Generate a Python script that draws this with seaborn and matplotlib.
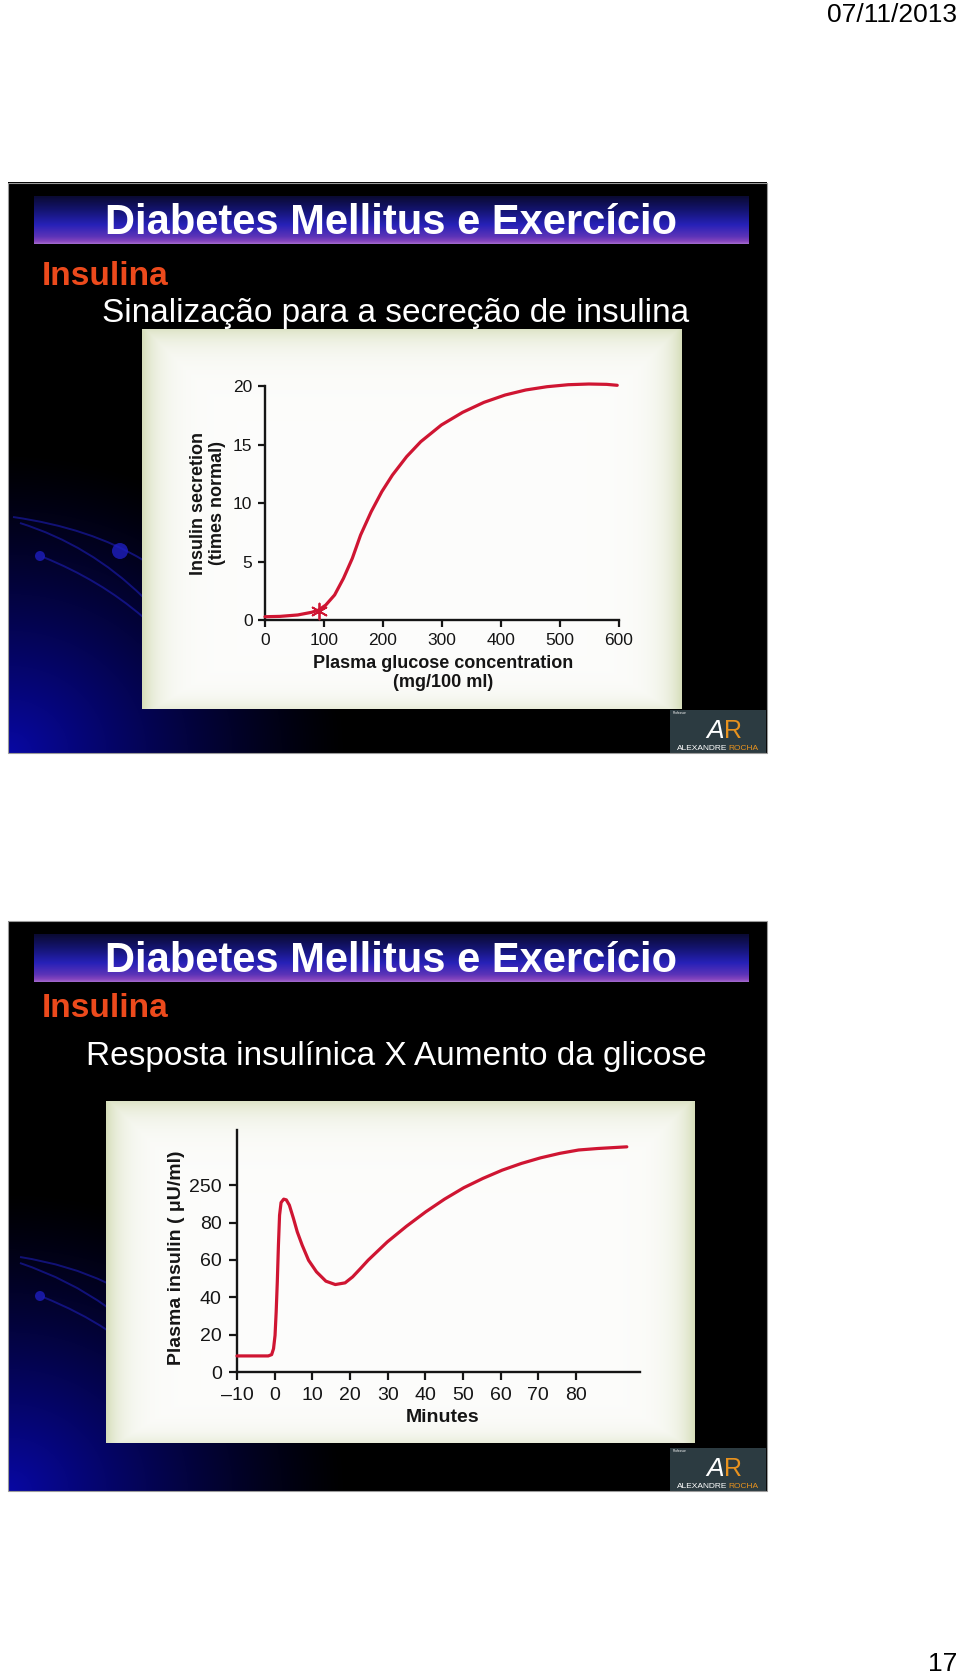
import numpy as np
import pandas as pd
import matplotlib
matplotlib.use("Agg")
import matplotlib.pyplot as plt
import seaborn as sns
from matplotlib.patches import Rectangle, PathPatch, Circle
from matplotlib.path import Path

# ---------------- data ----------------
# Chart 1: insulin secretion vs plasma glucose
glucose_mg = [0, 25.6, 55.4, 79.2, 91, 103, 118, 133, 148, 162, 180, 198, 216, 240,
              264, 299, 335, 371, 407, 442, 478, 514, 549, 579, 597]
secretion_times_normal = [0.28, 0.31, 0.43, 0.66, 0.85, 1.28, 2.14, 3.56, 5.27, 7.26,
                          9.26, 10.97, 12.39, 13.96, 15.24, 16.67, 17.75, 18.60, 19.23,
                          19.66, 19.94, 20.11, 20.17, 20.14, 20.06]
normal_glucose = [92]
normal_secretion = [0.8]
glucose_ticks = [0, 100, 200, 300, 400, 500, 600]
secretion_ticks = [0, 5, 10, 15, 20]

# Chart 2: plasma insulin over time
minutes = [-10, -1.7, -0.8, -0.3, 0.1, 0.4, 0.7, 1.0, 1.3, 1.7, 2.4, 3.1, 3.9, 5.0,
           6.0, 7.3, 9.0, 11.1, 13.6, 16.1, 18.7, 20.7, 22.8, 24.8, 29.9, 35.0, 40.1,
           45.1, 50.2, 55.3, 60.4, 65.5, 70.6, 75.7, 80.7, 85.8, 93.5]
plasma_insulin = [8.6, 8.6, 9.3, 12.5, 19.6, 32.1, 48.2, 67.9, 83.9, 90.7, 92.5, 92.1,
                  89.3, 82.1, 75.0, 67.9, 59.8, 53.6, 48.6, 46.8, 47.7, 50.9, 55.4,
                  59.8, 69.6, 78.0, 85.7, 92.5, 98.6, 103.6, 108.0, 111.6, 114.6,
                  117.0, 118.8, 119.6, 120.5]
minute_ticks = [-10, 0, 10, 20, 30, 40, 50, 60, 70, 80]
minute_ticklabels = ["\u201310", "0", "10", "20", "30", "40", "50", "60", "70", "80"]
insulin_tick_pos = [0, 20, 40, 60, 80, 100]
insulin_ticklabels = ["0", "20", "40", "60", "80", "250"]

# ---------------- style ----------------
sns.set_style("ticks")
plt.rcParams["font.family"] = ["Liberation Sans", "DejaVu Sans"]

W, H = 960, 1676
RED = "#cf1532"
INK = "#151515"
ORANGE_RED = "#ec4a1c"

fig = plt.figure(figsize=(W / 100, H / 100), dpi=100)
fig.patch.set_facecolor("white")


def rect(x0, y0, x1, y1):
    return [x0 / W, 1 - y1 / H, (x1 - x0) / W, (y1 - y0) / H]


bg = fig.add_axes([0, 0, 1, 1])
bg.axis("off")


def put_img(img, x0, y0, x1, y1, z):
    bg.imshow(img, extent=(x0, x1, y1, y0), aspect="auto", zorder=z,
              interpolation="bilinear")


def slide_bg(w, h):
    yy, xx = np.mgrid[0:h, 0:w]
    dx = xx / 340.0
    dy = (h - 1 - yy) / 300.0
    d = np.sqrt(dx ** 2 + dy ** 2)
    t = np.clip(1 - d, 0, 1) ** 1.25
    col = np.array([0.03, 0.03, 0.64])
    return t[..., None] * col


def bar_img(w, h):
    stops = [0.0, 0.3, 0.6, 0.85, 0.95, 1.0]
    cols = np.array([[0.04, 0.04, 0.20], [0.08, 0.08, 0.45], [0.15, 0.13, 0.72],
                     [0.36, 0.20, 0.72], [0.52, 0.27, 0.74], [0.62, 0.40, 0.80]])
    f = np.linspace(0, 1, h)
    c = np.stack([np.interp(f, stops, cols[:, k]) for k in range(3)], axis=1)
    return np.repeat(c[:, None, :], w, axis=1)


def panel_img(w, h):
    yy, xx = np.mgrid[0:h, 0:w]
    dl, dr = xx, w - 1 - xx
    dt, db = yy, h - 1 - yy
    wgt = np.maximum.reduce([np.exp(-dl / 16.0), np.exp(-dr / 16.0),
                             0.8 * np.exp(-dt / 16.0), 0.5 * np.exp(-db / 10.0)])
    white = np.array([0.99, 0.99, 0.985])
    green = np.array([0.84, 0.87, 0.73])
    return white * (1 - wgt[..., None]) + green * wgt[..., None]


def draw_logo(x0, y0, x1, y1):
    bg.add_patch(Rectangle((x0, y0), x1 - x0, y1 - y0, fc="#2c3b41", ec="none", zorder=4))
    bg.text(x0 + 3, y0 + 3, "Professor", color="white", fontsize=2.3, va="center",
            ha="left", zorder=5)
    bg.text(x0 + 54, y1 - 15, "A", color="white", fontsize=19, style="italic",
            ha="right", va="baseline", zorder=5)
    bg.text(x0 + 54, y1 - 15, "R", color="#e8921e", fontsize=18,
            ha="left", va="baseline", zorder=5)
    bg.text(x0 + 57, y1 - 4.5, "ALEXANDRE", color="white", fontsize=6,
            ha="right", va="center", zorder=5)
    bg.text(x0 + 58, y1 - 4.5, "ROCHA", color="#e8921e", fontsize=6,
            ha="left", va="center", zorder=5)


def draw_slide(top, title_y, ins_y, sub_y, sub_x, subtitle, panel, arcs, dots):
    x0, x1 = 8, 767
    bottom = top + 570
    put_img(slide_bg(x1 - x0, bottom - top), x0, top, x1, bottom, 1)
    bg.add_patch(Rectangle((x0, top), x1 - x0, bottom - top, fc="none",
                           ec="#9a9a9a", lw=0.8, zorder=6))
    # decorative arcs
    for (p0, c, p2) in arcs:
        path = Path([p0, c, p2], [Path.MOVETO, Path.CURVE3, Path.CURVE3])
        bg.add_patch(PathPatch(path, fc="none", ec="#1d1db4", lw=1.4, alpha=0.6, zorder=2))
    for (cx, cy, r) in dots:
        bg.add_patch(Circle((cx, cy), r, fc="#1e1ec0", ec="none", alpha=0.8, zorder=2))
    # title bar
    put_img(bar_img(715, 48), 34, top + 13, 749, top + 61, 2)
    bg.text(391, title_y, "Diabetes Mellitus e Exercício", color="white",
            fontsize=30, fontweight="bold", ha="center", va="baseline", zorder=5)
    bg.text(42, ins_y, "Insulina", color=ORANGE_RED, fontsize=24, fontweight="bold",
            ha="left", va="baseline", zorder=5)
    bg.text(sub_x, sub_y, subtitle, color="white", fontsize=24,
            ha="left", va="baseline", zorder=5)
    px0, py0, px1, py1 = panel
    put_img(panel_img(px1 - px0, py1 - py0), px0, py0, px1, py1, 3)
    draw_logo(670, bottom - 43, 766, bottom)


draw_slide(183, 234, 285, 322, 102, "Sinalização para a secreção de insulina",
           (142, 330, 682, 709),
           arcs=[((13, 517), (90, 528), (143, 560)),
                 ((20, 523), (90, 545), (143, 597)),
                 ((43, 557), (100, 580), (143, 617))],
           dots=[(120, 551, 8), (40, 556, 5)])
draw_slide(921, 972, 1017, 1065, 86, "Resposta insulínica X Aumento da glicose",
           (106, 1101, 695, 1443),
           arcs=[((20, 1257), (70, 1265), (107, 1283)),
                 ((20, 1263), (70, 1280), (107, 1307)),
                 ((43, 1297), (80, 1312), (107, 1330))],
           dots=[(40, 1296, 5)])

bg.text(957, 22, "07/11/2013", color="black", fontsize=19, ha="right", va="baseline")
bg.text(957, 1671, "17", color="black", fontsize=19, ha="right", va="baseline")
bg.set_xlim(0, W)
bg.set_ylim(H, 0)

# ---------------- chart 1 ----------------
ax1 = fig.add_axes(rect(265, 386, 619, 620))
ax1.set_facecolor("none")
d1 = pd.DataFrame({"glucose": glucose_mg, "secretion": secretion_times_normal})
sns.lineplot(data=d1, x="glucose", y="secretion", ax=ax1, color=RED, lw=2.3,
             estimator=None, sort=False, clip_on=False, zorder=5)
sns.scatterplot(x=normal_glucose, y=normal_secretion, ax=ax1, marker=(6, 2, 0),
                s=130, color=RED, linewidth=1.3, clip_on=False, zorder=6)
ax1.set_xlim(0, 600)
ax1.set_ylim(0, 20)
ax1.set_xticks(glucose_ticks)
ax1.set_yticks(secretion_ticks)
sns.despine(ax=ax1)
for s in ("left", "bottom"):
    ax1.spines[s].set_linewidth(1.7)
    ax1.spines[s].set_color(INK)
ax1.tick_params(length=5, width=1.6, pad=4, labelsize=12.5, colors=INK)
ax1.set_xlabel("Plasma glucose concentration\n(mg/100 ml)", fontsize=13,
               fontweight="bold", color=INK, linespacing=1.15)
ax1.xaxis.label.set_va("center")
ax1.xaxis.set_label_coords(0.503, -0.225)
ax1.set_ylabel("Insulin secretion\n(times normal)", fontsize=13, fontweight="bold",
               color=INK, linespacing=1.1)
ax1.yaxis.label.set_va("center")
ax1.yaxis.set_label_coords(-0.161, 0.5)

# ---------------- chart 2 ----------------
ax2 = fig.add_axes(rect(237, 1130, 640, 1372))
ax2.set_facecolor("none")
d2 = pd.DataFrame({"minutes": minutes, "insulin": plasma_insulin})
sns.lineplot(data=d2, x="minutes", y="insulin", ax=ax2, color=RED, lw=2.3,
             estimator=None, sort=False, clip_on=False, zorder=5)
ax2.set_xlim(-10, 97)
ax2.set_ylim(0, 129.5)
ax2.set_xticks(minute_ticks)
ax2.set_xticklabels(minute_ticklabels)
ax2.set_yticks(insulin_tick_pos)
ax2.set_yticklabels(insulin_ticklabels)
sns.despine(ax=ax2)
for s in ("left", "bottom"):
    ax2.spines[s].set_linewidth(1.7)
    ax2.spines[s].set_color(INK)
ax2.tick_params(length=6, width=1.6, pad=5, labelsize=14, colors=INK)
ax2.set_xlabel("Minutes", fontsize=14, fontweight="bold", color=INK)
ax2.xaxis.label.set_va("center")
ax2.xaxis.set_label_coords(0.51, -0.19)
ax2.set_ylabel("Plasma insulin ( \u03bcU/ml)", fontsize=14, fontweight="bold", color=INK)
ax2.yaxis.label.set_va("center")
ax2.yaxis.set_label_coords(-0.150, 0.471)

fig.savefig("out.png", dpi=100, facecolor="white")
